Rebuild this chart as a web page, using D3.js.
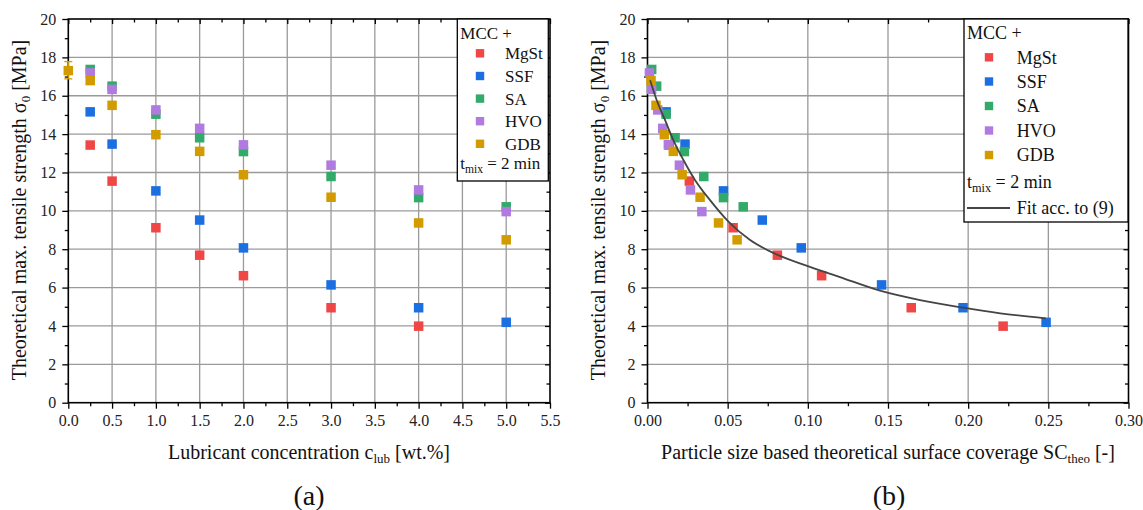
<!DOCTYPE html>
<html>
<head>
<meta charset="utf-8">
<script src="https://cdn.jsdelivr.net/npm/d3@7"></script>
<style>
  body { margin: 0; background: #fff; }
  svg { display: block; font-family: "Liberation Serif", "Times New Roman", serif; }
</style>
</head>
<body>
<svg id="chart" width="1143" height="510"></svg>
<script>
// series names and colours
const seriesNames = ['MgSt', 'SSF', 'SA', 'HVO', 'GDB'];
const seriesColors = ['#f04646', '#1c6fe0', '#32aa6a', '#b07ae0', '#d29c00'];

// (a) lubricant concentration [wt.%]
const concMgSt = [0.25, 0.5, 1.0, 1.5, 2.0, 3.0, 4.0];
const concOther = [0.25, 0.5, 1.0, 1.5, 2.0, 3.0, 4.0, 5.0];

// tensile strength [MPa]
const sigmaMgSt = [13.43, 11.55, 9.12, 7.69, 6.62, 4.95, 3.99];
const sigmaSSF = [15.16, 13.48, 11.04, 9.52, 8.07, 6.14, 4.95, 4.19];
const sigmaSA = [17.37, 16.5, 15.04, 13.81, 13.09, 11.79, 10.69, 10.21];
const sigmaHVO = [17.19, 16.33, 15.26, 14.3, 13.44, 12.38, 11.09, 9.96];
const sigmaGDB = [16.79, 15.5, 13.97, 13.1, 11.88, 10.71, 9.37, 8.49];

// pure MCC reference point (mean, lower, upper)
const pureMcc = { c: 0, mean: 17.31, lo: 16.88, hi: 17.78 };

// (b) theoretical surface coverage [-]
const scMgSt = [0.0135, 0.0261, 0.0534, 0.081, 0.1086, 0.1645, 0.2218];
const scSSF = [0.0116, 0.0234, 0.0474, 0.0716, 0.0959, 0.146, 0.1968, 0.2486];
const scSA = [0.0026, 0.0057, 0.0116, 0.0172, 0.023, 0.0351, 0.0474, 0.0597];
const scHVO = [0.0012, 0.0026, 0.0064, 0.0095, 0.013, 0.0199, 0.0268, 0.0339];
const scGDB = [0.0022, 0.0053, 0.0105, 0.0161, 0.0216, 0.0328, 0.0443, 0.0559];

// fit curve
const fitSC = [0.0016, 0.0057, 0.0109, 0.0161, 0.0224, 0.0297, 0.039, 0.0505, 0.064, 0.0786, 0.1, 0.12, 0.145, 0.17, 0.197, 0.22, 0.2484];
const fitSigma = [16.81, 15.78, 14.74, 13.69, 12.65, 11.6, 10.56, 9.44, 8.48, 7.8, 7.12, 6.55, 5.84, 5.35, 4.95, 4.66, 4.4];

// ticks
const xTicksA = [0, 0.5, 1, 1.5, 2, 2.5, 3, 3.5, 4, 4.5, 5, 5.5];
const xMinorA = [0.25, 0.75, 1.25, 1.75, 2.25, 2.75, 3.25, 3.75, 4.25, 4.75, 5.25];
const xTicksB = [0, 0.05, 0.1, 0.15, 0.2, 0.25, 0.3];
const xMinorB = [0.025, 0.075, 0.125, 0.175, 0.225, 0.275];
const yTicks = [0, 2, 4, 6, 8, 10, 12, 14, 16, 18, 20];
const yMinor = [1, 3, 5, 7, 9, 11, 13, 15, 17, 19];

const svg = d3.select('#chart');

const sigmaBySeries = [sigmaMgSt, sigmaSSF, sigmaSA, sigmaHVO, sigmaGDB];
const concBySeries = [concMgSt, concOther, concOther, concOther, concOther];
const scBySeries = [scMgSt, scSSF, scSA, scHVO, scGDB];

function drawPanel(opts) {
    const x = d3.scaleLinear().domain(opts.xDomain).range(opts.xRange);
    const y = d3.scaleLinear().domain([0, 20]).range([402.7, 19]);
    const [x0, x1] = opts.xRange;
    const g = svg.append('g');

    // grid
    g.append('g').selectAll('line')
        .data(opts.xTicks.slice(1, -1))
        .join('line')
        .attr('x1', (d) => x(d)).attr('x2', (d) => x(d))
        .attr('y1', y(0)).attr('y2', y(20))
        .attr('stroke', '#9a9a9a').attr('stroke-width', 1.3);
    g.append('g').selectAll('line')
        .data(yTicks.slice(1, -1))
        .join('line')
        .attr('x1', x0).attr('x2', x1)
        .attr('y1', (d) => y(d)).attr('y2', (d) => y(d))
        .attr('stroke', '#9a9a9a').attr('stroke-width', 1.3);

    const styleAxis = (sel) => {
        sel.select('.domain').remove();
        sel.selectAll('line').attr('stroke', '#000').attr('stroke-width', 1.3);
        sel.selectAll('text').attr('font-size', 16).attr('fill', '#222')
            .attr('font-family', '"Liberation Serif", "Times New Roman", serif');
    };

    // bottom
    g.append('g').attr('transform', `translate(0,${y(0)})`)
        .call(d3.axisBottom(x).tickValues(opts.xTicks).tickFormat(d3.format(opts.fmt)).tickSize(6).tickPadding(6))
        .call(styleAxis);
    g.append('g').attr('transform', `translate(0,${y(0)})`)
        .call(d3.axisBottom(x).tickValues(opts.xMinor).tickFormat('').tickSize(3.5))
        .call(styleAxis);
    // top (inward)
    g.append('g').attr('transform', `translate(0,${y(20)})`)
        .call(d3.axisBottom(x).tickValues(opts.xTicks).tickFormat('').tickSize(5))
        .call(styleAxis);
    g.append('g').attr('transform', `translate(0,${y(20)})`)
        .call(d3.axisBottom(x).tickValues(opts.xMinor).tickFormat('').tickSize(3.5))
        .call(styleAxis);
    // left
    g.append('g').attr('transform', `translate(${x0},0)`)
        .call(d3.axisLeft(y).tickValues(yTicks).tickSize(6).tickPadding(6))
        .call(styleAxis);
    g.append('g').attr('transform', `translate(${x0},0)`)
        .call(d3.axisLeft(y).tickValues(yMinor).tickFormat('').tickSize(3.5))
        .call(styleAxis);
    // right (inward)
    g.append('g').attr('transform', `translate(${x1},0)`)
        .call(d3.axisLeft(y).tickValues(yTicks).tickFormat('').tickSize(5))
        .call(styleAxis);
    g.append('g').attr('transform', `translate(${x1},0)`)
        .call(d3.axisLeft(y).tickValues(yMinor).tickFormat('').tickSize(3.5))
        .call(styleAxis);

    // frame
    g.append('rect')
        .attr('x', x0).attr('y', y(20))
        .attr('width', x1 - x0).attr('height', y(0) - y(20))
        .attr('fill', 'none').attr('stroke', '#000').attr('stroke-width', 1.6);

    return { g, x, y };
}

function drawMarkers(g, x, y, xs, ys, color, size) {
    g.append('g').selectAll('rect')
        .data(xs.map((v, i) => [v, ys[i]]))
        .join('rect')
        .attr('x', (d) => x(d[0]) - size / 2)
        .attr('y', (d) => y(d[1]) - size / 2)
        .attr('width', size).attr('height', size)
        .attr('fill', color);
}

function yTitle(cx, cy) {
    const t = svg.append('text')
        .attr('transform', `translate(${cx},${cy}) rotate(-90)`)
        .attr('text-anchor', 'middle')
        .attr('font-size', 20).attr('fill', '#111');
    t.append('tspan').text('Theoretical max. tensile strength σ');
    t.append('tspan').attr('font-size', 13).attr('dy', 4).text('0');
    t.append('tspan').attr('dy', -4).text(' [MPa]');
}

function legend(x0, y0, w, h, rowY, textX, markX, fontSize, withFit) {
    const g = svg.append('g');
    g.append('rect').attr('x', x0).attr('y', y0).attr('width', w).attr('height', h)
        .attr('fill', '#fff').attr('stroke', '#000').attr('stroke-width', 1.3);
    g.append('text').attr('x', x0 + 3).attr('y', rowY[0]).attr('font-size', fontSize).attr('fill', '#111').text('MCC +');
    seriesNames.forEach((name, i) => {
        g.append('rect').attr('x', markX - 4.2).attr('y', rowY[i + 1] - 4.2)
            .attr('width', 8.4).attr('height', 8.4).attr('fill', seriesColors[i]);
        g.append('text').attr('x', textX).attr('y', rowY[i + 1] + fontSize * 0.35)
            .attr('font-size', fontSize).attr('fill', '#111').text(name);
    });
    const t = g.append('text').attr('x', x0 + 3).attr('y', rowY[6]).attr('font-size', fontSize).attr('fill', '#111');
    t.append('tspan').text('t');
    t.append('tspan').attr('font-size', fontSize * 0.68).attr('dy', 4).text('mix');
    t.append('tspan').attr('dy', -4).text(' = 2 min');
    if (withFit) {
        g.append('line').attr('x1', x0 + 3).attr('x2', x0 + 46).attr('y1', rowY[7]).attr('y2', rowY[7])
            .attr('stroke', '#444').attr('stroke-width', 1.8);
        g.append('text').attr('x', textX).attr('y', rowY[7] + fontSize * 0.35)
            .attr('font-size', fontSize).attr('fill', '#111').text('Fit acc. to (9)');
    }
}

// ---- panel (a)
const A = drawPanel({ xDomain: [0, 5.5], xRange: [68.3, 550], xTicks: xTicksA, xMinor: xMinorA, fmt: '.1f' });
seriesNames.forEach((n, i) => {
    drawMarkers(A.g, A.x, A.y, concBySeries[i], sigmaBySeries[i], seriesColors[i], 9.5);
});
// pure MCC with error bar
A.g.append('line')
    .attr('x1', A.x(pureMcc.c)).attr('x2', A.x(pureMcc.c))
    .attr('y1', A.y(pureMcc.lo)).attr('y2', A.y(pureMcc.hi))
    .attr('stroke', seriesColors[4]).attr('stroke-width', 1.3);
[pureMcc.lo, pureMcc.hi].forEach((v) => {
    A.g.append('line')
        .attr('x1', A.x(pureMcc.c) - 4).attr('x2', A.x(pureMcc.c) + 4)
        .attr('y1', A.y(v)).attr('y2', A.y(v))
        .attr('stroke', seriesColors[4]).attr('stroke-width', 1.3);
});
drawMarkers(A.g, A.x, A.y, [pureMcc.c], [pureMcc.mean], seriesColors[4], 9.5);

legend(457.3, 19, 91, 162, [38.5, 53.3, 76, 98.6, 121.2, 143.8, 168.5], 505, 480, 17, false);

// ---- panel (b)
const B = drawPanel({ xDomain: [0, 0.3], xRange: [647.5, 1128.5], xTicks: xTicksB, xMinor: xMinorB, fmt: '.2f' });
seriesNames.forEach((n, i) => {
    drawMarkers(B.g, B.x, B.y, scBySeries[i], sigmaBySeries[i], seriesColors[i], 9.5);
});
B.g.append('path')
    .datum(fitSC.map((v, i) => [v, fitSigma[i]]))
    .attr('fill', 'none').attr('stroke', '#444').attr('stroke-width', 1.8)
    .attr('d', d3.line().x((d) => B.x(d[0])).y((d) => B.y(d[1])).curve(d3.curveMonotoneX));

legend(964, 19, 164, 203, [39, 57.3, 81.5, 106, 130.5, 155, 188, 208], 1016.7, 989, 18, true);

// axis titles
yTitle(26, 210);
yTitle(605, 210);

const xt1 = svg.append('text').attr('x', 309).attr('y', 459).attr('text-anchor', 'middle')
    .attr('font-size', 20).attr('fill', '#111');
xt1.append('tspan').text('Lubricant concentration c');
xt1.append('tspan').attr('font-size', 13).attr('dy', 4).text('lub');
xt1.append('tspan').attr('dy', -4).text(' [wt.%]');

const xt2 = svg.append('text').attr('x', 888).attr('y', 459).attr('text-anchor', 'middle')
    .attr('font-size', 20).attr('fill', '#111');
xt2.append('tspan').text('Particle size based theoretical surface coverage SC');
xt2.append('tspan').attr('font-size', 13).attr('dy', 4).text('theo');
xt2.append('tspan').attr('dy', -4).text(' [-]');

svg.append('text').attr('x', 309).attr('y', 505).attr('text-anchor', 'middle')
    .attr('font-size', 28).attr('fill', '#111').text('(a)');
svg.append('text').attr('x', 889).attr('y', 505).attr('text-anchor', 'middle')
    .attr('font-size', 28).attr('fill', '#111').text('(b)');
</script>
</body>
</html>
